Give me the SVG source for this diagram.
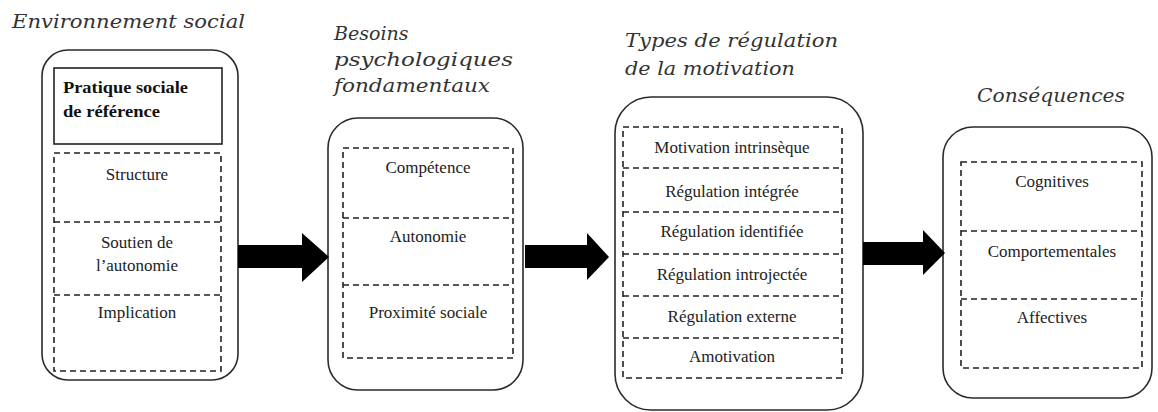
<svg xmlns="http://www.w3.org/2000/svg" width="1158" height="412" viewBox="0 0 1158 412">
<style>
.outer{fill:#fff;stroke:#2a2a2a;stroke-width:1.6}
.dash{fill:none;stroke:#222;stroke-width:1.6;stroke-dasharray:6 4}
.title{font-family:"DejaVu Serif","Liberation Serif",serif;font-style:italic;font-size:19px;fill:#333}
.lbl{font-family:"Liberation Serif",serif;font-size:17px;fill:#222;text-anchor:middle}
.bold{font-family:"Liberation Serif",serif;font-size:16px;font-weight:bold;fill:#111}
.arrow{fill:#000}
</style>
<rect width="1158" height="412" fill="#fff"/>
<g id="env">
<text class="title" x="12" y="28" textLength="233" lengthAdjust="spacingAndGlyphs">Environnement social</text>
<rect class="outer" x="42" y="50" width="196" height="330" rx="26"/>
<rect x="54" y="68" width="168" height="76" fill="none" stroke="#222" stroke-width="1.6"/>
<text class="bold" x="63" y="93" textLength="125" lengthAdjust="spacingAndGlyphs">Pratique sociale</text>
<text class="bold" x="63" y="117" textLength="97" lengthAdjust="spacingAndGlyphs">de référence</text>
<rect class="dash" x="54" y="153" width="167" height="218"/>
<line class="dash" x1="54" y1="222" x2="221" y2="222"/>
<line class="dash" x1="54" y1="295" x2="221" y2="295"/>
<text class="lbl" x="137" y="180">Structure</text>
<text class="lbl" x="137" y="248">Soutien de</text>
<text class="lbl" x="137" y="271">l’autonomie</text>
<text class="lbl" x="137" y="318">Implication</text>
</g>
<g id="besoins">
<text class="title" x="334" y="40">Besoins</text>
<text class="title" x="334" y="66" textLength="179" lengthAdjust="spacingAndGlyphs">psychologiques</text>
<text class="title" x="334" y="92" textLength="156" lengthAdjust="spacingAndGlyphs">fondamentaux</text>
<rect class="outer" x="328" y="118" width="195" height="272" rx="30"/>
<rect class="dash" x="343" y="148" width="170" height="210"/>
<line class="dash" x1="343" y1="218" x2="513" y2="218"/>
<line class="dash" x1="343" y1="285" x2="513" y2="285"/>
<text class="lbl" x="428" y="173">Compétence</text>
<text class="lbl" x="428" y="242">Autonomie</text>
<text class="lbl" x="428" y="318">Proximité sociale</text>
</g>
<g id="types">
<text class="title" x="625" y="47" textLength="213" lengthAdjust="spacingAndGlyphs">Types de régulation</text>
<text class="title" x="625" y="75" textLength="170" lengthAdjust="spacingAndGlyphs">de la motivation</text>
<rect class="outer" x="615" y="97" width="248" height="313" rx="36"/>
<rect class="dash" x="623" y="127" width="219" height="251"/>
<line class="dash" x1="623" y1="168" x2="842" y2="168"/>
<line class="dash" x1="623" y1="212" x2="842" y2="212"/>
<line class="dash" x1="623" y1="254" x2="842" y2="254"/>
<line class="dash" x1="623" y1="296" x2="842" y2="296"/>
<line class="dash" x1="623" y1="338" x2="842" y2="338"/>
<text class="lbl" x="732" y="153">Motivation intrinsèque</text>
<text class="lbl" x="732" y="197">Régulation intégrée</text>
<text class="lbl" x="732" y="237">Régulation identifiée</text>
<text class="lbl" x="732" y="280">Régulation introjectée</text>
<text class="lbl" x="732" y="322">Régulation externe</text>
<text class="lbl" x="732" y="362">Amotivation</text>
</g>
<g id="consequences">
<text class="title" x="977" y="102" textLength="148" lengthAdjust="spacingAndGlyphs">Conséquences</text>
<rect class="outer" x="943" y="127" width="209" height="271" rx="30"/>
<rect class="dash" x="961" y="162" width="181" height="206"/>
<line class="dash" x1="961" y1="231" x2="1142" y2="231"/>
<line class="dash" x1="961" y1="299" x2="1142" y2="299"/>
<text class="lbl" x="1052" y="187">Cognitives</text>
<text class="lbl" x="1052" y="257">Comportementales</text>
<text class="lbl" x="1052" y="323">Affectives</text>
</g>
<g id="connectors">
<polygon class="arrow" points="238,245 302,245 302,233 329,257 302,282 302,268 238,268"/>
<polygon class="arrow" points="525,245 587,245 587,233 609,257 587,280 587,268 525,268"/>
<polygon class="arrow" points="863,242 923,242 923,230 945,253 923,275 923,265 863,265"/>
</g>
</svg>
